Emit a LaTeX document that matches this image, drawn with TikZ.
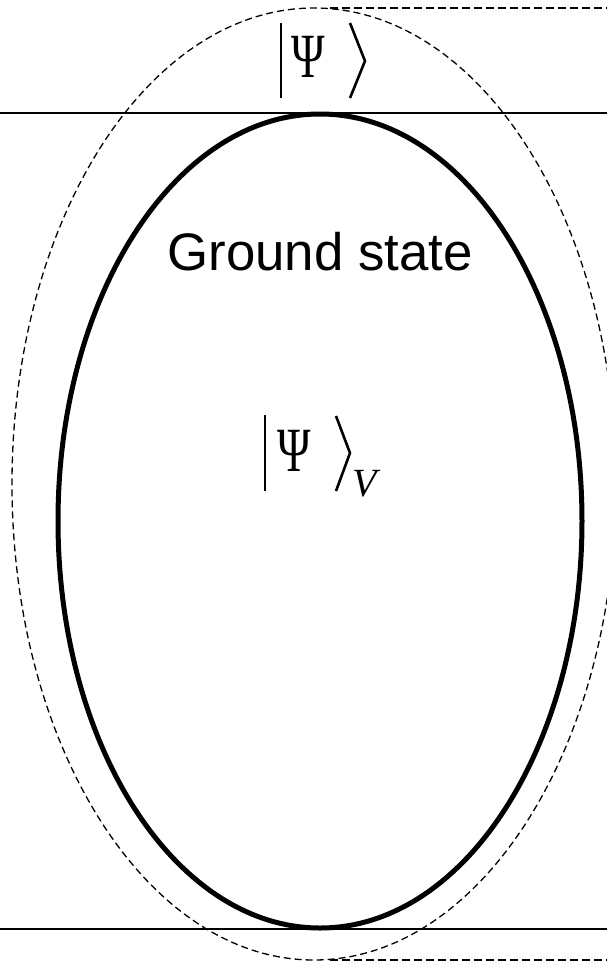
\documentclass[tikz,border=0pt]{standalone}
\usepackage{fontspec}
\setmainfont{Liberation Serif}
\newfontfamily\labelfont{Liberation Sans}
\tikzset{
  thinline/.style={line width=1.8pt},
  dashell/.style={line width=1.3pt, dash pattern=on 7pt off 4pt},
  dashframe/.style={line width=2.8pt, dash pattern=on 8pt off 4pt},
  ketline/.style={line width=2.6pt},
  psitext/.style={inner sep=0pt, font=\fontsize{63}{63}\selectfont, xscale=0.72},
}
\begin{document}
\begin{tikzpicture}[x=1pt,y=-1pt]
\useasboundingbox (0,0) rectangle (607,962);
\clip (0,0) rectangle (607,962);
\fill[white] (0,0) rectangle (607,962);
% horizontal lines
\draw[thinline] (0,113) -- (607,113);
\draw[thinline] (0,929) -- (607,929);
% dashed frame pieces
\draw[dashframe] (330,8) -- (607,8);
\draw[dashframe] (330,960) -- (607,960);
% dashed ellipse
\draw[dashell] (314,484) ellipse [x radius=302pt, y radius=476pt];
% solid ellipse
\draw[line width=5pt] (320,521) ellipse [x radius=262pt, y radius=407pt];
% label
\node[font=\labelfont\fontsize{52.8}{52.8}\selectfont, inner sep=0pt] (gs) at (320,252) {Ground state};
% top ket
\node[psitext] (psitop) at (308,57) {Ψ};
\draw[ketline] (281,23) -- (281,98);
\draw[ketline] (350,23) -- (365,61) -- (350,98);
% middle ket
\node[psitext] (psimid) at (294.5,451) {Ψ};
\draw[ketline] (265,415) -- (265,491);
\draw[ketline] (336,416) -- (350,453) -- (336,491);
\node[inner sep=0pt, font=\fontsize{40}{40}\selectfont\itshape, anchor=south west] (v) at (352,497) {V};
\end{tikzpicture}
\end{document}
